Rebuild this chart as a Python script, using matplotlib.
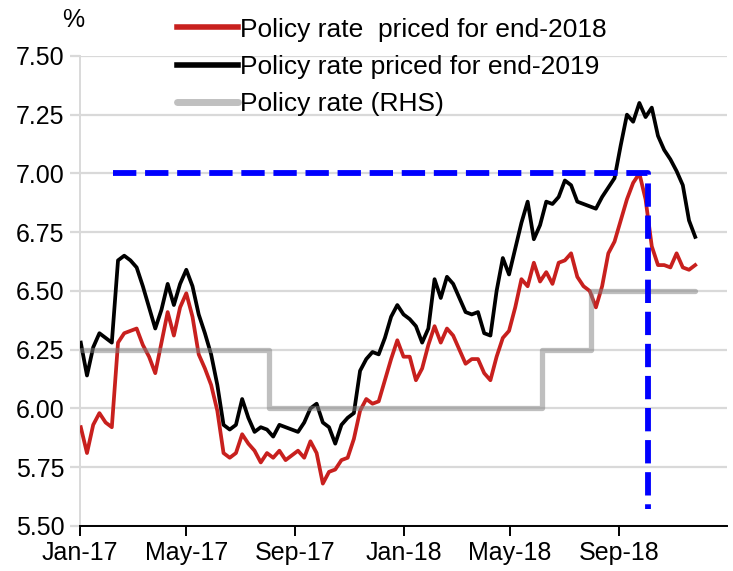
import matplotlib
matplotlib.use("Agg")
import matplotlib.pyplot as plt
import matplotlib.dates as mdates
import pandas as pd

plt.rcParams['font.family'] = ['Liberation Sans', 'DejaVu Sans']

# weekly observations, Jan-2017 .. Nov-2018
weeks = pd.date_range('2017-01-02', periods=100, freq='7D')

priced_2019 = [
    6.28, 6.14, 6.26, 6.32, 6.30, 6.28, 6.63, 6.65, 6.63, 6.60,
    6.52, 6.43, 6.34, 6.42, 6.53, 6.44, 6.53, 6.59, 6.52, 6.40,
    6.32, 6.23, 6.10, 5.93, 5.91, 5.93, 6.04, 5.96, 5.90, 5.92,
    5.91, 5.88, 5.93, 5.92, 5.91, 5.90, 5.94, 6.00, 6.02, 5.94,
    5.92, 5.85, 5.93, 5.96, 5.98, 6.16, 6.21, 6.24, 6.23, 6.30,
    6.39, 6.44, 6.40, 6.38, 6.35, 6.28, 6.34, 6.55, 6.47, 6.56,
    6.53, 6.47, 6.41, 6.40, 6.41, 6.32, 6.31, 6.50, 6.64, 6.57,
    6.68, 6.79, 6.88, 6.72, 6.78, 6.88, 6.87, 6.90, 6.97, 6.95,
    6.88, 6.87, 6.86, 6.85, 6.90, 6.94, 6.98, 7.12, 7.25, 7.22,
    7.30, 7.24, 7.28, 7.16, 7.10, 7.06, 7.01, 6.95, 6.80, 6.73,
]

priced_2018 = [
    5.92, 5.81, 5.93, 5.98, 5.94, 5.92, 6.28, 6.32, 6.33, 6.34,
    6.27, 6.22, 6.15, 6.28, 6.41, 6.31, 6.43, 6.49, 6.39, 6.23,
    6.17, 6.10, 5.99, 5.81, 5.79, 5.81, 5.89, 5.85, 5.82, 5.77,
    5.81, 5.79, 5.82, 5.78, 5.80, 5.82, 5.79, 5.86, 5.81, 5.68,
    5.73, 5.74, 5.78, 5.79, 5.87, 5.99, 6.04, 6.02, 6.03, 6.12,
    6.21, 6.29, 6.22, 6.22, 6.12, 6.17, 6.27, 6.35, 6.28, 6.34,
    6.31, 6.25, 6.19, 6.21, 6.21, 6.15, 6.12, 6.22, 6.30, 6.33,
    6.43, 6.55, 6.52, 6.62, 6.54, 6.58, 6.53, 6.62, 6.63, 6.66,
    6.56, 6.52, 6.50, 6.43, 6.52, 6.66, 6.71, 6.80, 6.89, 6.96,
    7.00, 6.89, 6.69, 6.61, 6.61, 6.60, 6.66, 6.60, 6.59, 6.61,
]

# policy rate changes (step)
policy_dates = pd.to_datetime(['2017-01-02', '2017-08-02', '2018-06-06', '2018-08-01', '2018-11-26'])
policy_rate = [6.25, 6.00, 6.25, 6.50, 6.50]

# blue dashed guide
guide_dates = pd.to_datetime(['2017-02-07', '2018-10-04', '2018-10-04'])
guide_vals = [7.00, 7.00, 5.57]

fig = plt.figure(figsize=(7.33, 5.71), dpi=100)
ax = fig.add_axes([0.109, 0.079, 0.883, 0.823])

ax.plot(weeks, priced_2018, color='#c8201e', lw=2.7, label='Policy rate  priced for end-2018', zorder=3)
ax.plot(weeks, priced_2019, color='black', lw=2.7, label='Policy rate priced for end-2019', zorder=4)
ax.plot(policy_dates, policy_rate, color='#808080', alpha=0.5, lw=3.8, drawstyle='steps-post',
        solid_capstyle='round', label='Policy rate (RHS)', zorder=5)
ax.plot(guide_dates, guide_vals, color='#0000ff', lw=4.2, dashes=(4, 1.5), zorder=6)

ax.set_ylim(5.5, 7.5)
ax.set_yticks([5.50, 5.75, 6.00, 6.25, 6.50, 6.75, 7.00, 7.25, 7.50])
ax.yaxis.set_major_formatter(matplotlib.ticker.FormatStrFormatter('%.2f'))
ax.set_xlim(pd.Timestamp('2017-01-01'), pd.Timestamp('2019-01-01'))
ax.xaxis.set_major_locator(mdates.MonthLocator(bymonth=[1, 5, 9]))
ax.xaxis.set_major_formatter(mdates.DateFormatter('%b-%y'))
ticks = [t for t in ax.get_xticks() if t < mdates.date2num(pd.Timestamp('2018-12-01'))]
ax.set_xticks(ticks)

ax.grid(axis='y', color='#d9d9d9', lw=1.6, zorder=0)
ax.set_axisbelow(True)
for s in ['top', 'right']:
    ax.spines[s].set_visible(False)
ax.spines['left'].set_color('#d9d9d9')
ax.spines['left'].set_linewidth(1.4)
ax.spines['bottom'].set_color('black')
ax.spines['bottom'].set_linewidth(1.4)
ax.tick_params(axis='y', length=7, width=1.6, color='#d9d9d9', labelsize=18, pad=4)
ax.tick_params(axis='x', length=7, width=1.4, color='black', labelsize=18, pad=4)

fig.text(0.1, 0.965, '%', fontsize=18, ha='center', va='center')

leg = ax.legend(loc='upper left', bbox_to_anchor=(0.2415, 0.969), bbox_transform=fig.transFigure,
                frameon=False, fontsize=19, handlelength=2.3, handletextpad=0.08, labelspacing=0.5,
                borderaxespad=0, borderpad=0)
for h in leg.get_lines():
    h.set_linewidth(4)
    h.set_alpha(1)
leg.get_lines()[2].set_color('#c0c0c0')
leg.get_lines()[2].set_linewidth(5)

fig.savefig('out.png', dpi=100)
